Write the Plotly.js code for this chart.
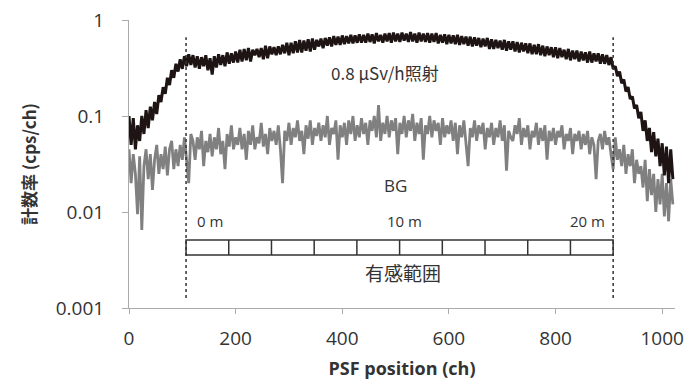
<!DOCTYPE html>
<html>
<head>
<meta charset="utf-8">
<script src="https://cdn.plot.ly/plotly-3.0.1.min.js"></script>
<style>html,body{margin:0;padding:0;background:#fff;}#chart{width:694px;height:381px;}</style>
</head>
<body>
<div id="chart"></div>
<script>
// channel step of the sampled spectra (ch)
const chStep = 4;

// 0.8 uSv/h irradiation count rate (cps/ch), every 4 ch from 0 to 1020
const irradiated = [
  0.1, 0.05, 0.095, 0.045, 0.08, 0.055, 0.1, 0.065, 0.115, 0.075,
  0.125, 0.09, 0.14, 0.105, 0.165, 0.14, 0.2, 0.17, 0.25, 0.21,
  0.3, 0.25, 0.35, 0.29, 0.39, 0.31, 0.42, 0.33, 0.44, 0.34,
  0.43, 0.32, 0.42, 0.31, 0.41, 0.33, 0.43, 0.3, 0.4, 0.27,
  0.42, 0.32, 0.44, 0.34, 0.43, 0.33, 0.46, 0.35, 0.45, 0.36,
  0.47, 0.36, 0.49, 0.37, 0.5, 0.38, 0.51, 0.37, 0.49, 0.43,
  0.5, 0.41, 0.51, 0.39, 0.54, 0.4, 0.53, 0.44, 0.52, 0.43,
  0.53, 0.44, 0.55, 0.45, 0.58, 0.43, 0.58, 0.45, 0.6, 0.46,
  0.62, 0.46, 0.61, 0.48, 0.63, 0.47, 0.64, 0.49, 0.62, 0.53,
  0.64, 0.51, 0.65, 0.54, 0.66, 0.53, 0.68, 0.55, 0.67, 0.55,
  0.69, 0.56, 0.68, 0.57, 0.7, 0.57, 0.69, 0.58, 0.71, 0.58,
  0.7, 0.58, 0.72, 0.59, 0.71, 0.57, 0.73, 0.6, 0.7, 0.58,
  0.72, 0.6, 0.73, 0.58, 0.74, 0.6, 0.72, 0.59, 0.74, 0.61,
  0.72, 0.59, 0.75, 0.6, 0.72, 0.58, 0.74, 0.6, 0.72, 0.59,
  0.73, 0.58, 0.72, 0.59, 0.73, 0.57, 0.7, 0.58, 0.71, 0.56,
  0.7, 0.57, 0.69, 0.56, 0.7, 0.55, 0.68, 0.56, 0.67, 0.54,
  0.67, 0.53, 0.66, 0.54, 0.65, 0.52, 0.64, 0.53, 0.65, 0.5,
  0.63, 0.5, 0.62, 0.51, 0.61, 0.49, 0.62, 0.48, 0.6, 0.49,
  0.6, 0.47, 0.59, 0.46, 0.58, 0.47, 0.57, 0.45, 0.57, 0.44,
  0.55, 0.44, 0.56, 0.43, 0.54, 0.42, 0.53, 0.43, 0.52, 0.41,
  0.52, 0.4, 0.51, 0.41, 0.49, 0.39, 0.5, 0.38, 0.48, 0.39,
  0.48, 0.37, 0.47, 0.38, 0.46, 0.36, 0.47, 0.36, 0.45, 0.37,
  0.45, 0.35, 0.44, 0.35, 0.43, 0.34, 0.41, 0.31, 0.33, 0.26,
  0.29, 0.22, 0.24, 0.18, 0.2, 0.15, 0.16, 0.12, 0.13, 0.095,
  0.11, 0.07, 0.09, 0.055, 0.075, 0.042, 0.068, 0.038, 0.058, 0.03,
  0.052, 0.024, 0.048, 0.02, 0.045, 0.022
];

// background (BG) count rate (cps/ch), every 4 ch from 0 to 1020
const background = [
  0.045, 0.02, 0.04, 0.025, 0.0095, 0.038, 0.0065, 0.03, 0.045, 0.022,
  0.04, 0.017, 0.035, 0.05, 0.025, 0.04, 0.028, 0.048, 0.024, 0.045,
  0.055, 0.028, 0.045, 0.03, 0.05, 0.035, 0.06, 0.035, 0.02, 0.065,
  0.055, 0.035, 0.06, 0.045, 0.07, 0.03, 0.055, 0.042, 0.065, 0.038,
  0.06, 0.045, 0.075, 0.04, 0.055, 0.028, 0.065, 0.048, 0.08, 0.045,
  0.06, 0.05, 0.075, 0.045, 0.065, 0.035, 0.07, 0.05, 0.08, 0.045,
  0.06, 0.052, 0.085, 0.048, 0.065, 0.04, 0.075, 0.055, 0.07, 0.05,
  0.08, 0.045, 0.02, 0.07, 0.055, 0.085, 0.05, 0.075, 0.06, 0.09,
  0.055, 0.07, 0.04, 0.08, 0.058, 0.09, 0.05, 0.075, 0.062, 0.085,
  0.055, 0.08, 0.06, 0.1, 0.05, 0.075, 0.065, 0.09, 0.035, 0.08,
  0.06, 0.085, 0.05, 0.09, 0.065, 0.1, 0.055, 0.08, 0.06, 0.095,
  0.065, 0.085, 0.05, 0.09, 0.07, 0.1, 0.06, 0.13, 0.055, 0.085,
  0.065, 0.1, 0.06, 0.09, 0.07, 0.095, 0.04, 0.085, 0.065, 0.1,
  0.06, 0.09, 0.07, 0.105, 0.055, 0.085, 0.065, 0.095, 0.035, 0.08,
  0.065, 0.1, 0.06, 0.09, 0.07, 0.085, 0.05, 0.095, 0.06, 0.08,
  0.065, 0.09, 0.055, 0.085, 0.04, 0.08, 0.06, 0.09, 0.05, 0.03,
  0.075, 0.06, 0.09, 0.055, 0.08, 0.065, 0.085, 0.045, 0.075, 0.06,
  0.085, 0.05, 0.075, 0.06, 0.09, 0.055, 0.08, 0.027, 0.07, 0.06,
  0.055, 0.08, 0.065, 0.095, 0.05, 0.075, 0.06, 0.08, 0.045, 0.07,
  0.06, 0.085, 0.05, 0.075, 0.055, 0.08, 0.035, 0.07, 0.055, 0.075,
  0.05, 0.07, 0.06, 0.08, 0.045, 0.065, 0.055, 0.075, 0.04, 0.065,
  0.055, 0.07, 0.045, 0.065, 0.05, 0.07, 0.04, 0.06, 0.05, 0.022,
  0.055, 0.065, 0.045, 0.07, 0.05, 0.06, 0.04, 0.028, 0.06, 0.035,
  0.045, 0.03, 0.05, 0.025, 0.04, 0.03, 0.045, 0.02, 0.035, 0.025,
  0.03, 0.018, 0.035, 0.013, 0.028, 0.015, 0.025, 0.01, 0.022, 0.012,
  0.025, 0.009, 0.02, 0.008, 0.022, 0.012
];

// annotations
const seriesLabels = ['0.8 \u00b5Sv/h照射', 'BG'];
const sensitiveRange = [107, 908];        // ch, dashed lines / ruler ends
const rulerSegments = 10;                 // 2 m per segment
const rulerLabels = ['0 m', '10 m', '20 m'];
const rulerLabelCh = [152, 516, 859];
const rangeLabel = '有感範囲';

// axes
const yTickVals = [0.001, 0.01, 0.1, 1];
const yTickText = ['0.001', '0.01', '0.1', '1'];
const xTickVals = [0, 200, 400, 600, 800, 1000];
const xTitle = 'PSF position (ch)';
const yTitle = '計数率 (cps/ch)';

const chIrr = irradiated.map((_, i) => i * chStep);
const chBg = background.map((_, i) => i * chStep);

const FONT = '"Open Sans", "Noto Sans CJK JP", sans-serif';
const JFONT = '"Noto Sans CJK JP", "Open Sans", sans-serif';

const traces = [
  {x: chBg, y: background, type: 'scatter', mode: 'lines',
   line: {color: '#808080', width: 2.8}, hoverinfo: 'skip'},
  {x: chIrr, y: irradiated, type: 'scatter', mode: 'lines',
   line: {color: '#1e1414', width: 3}, hoverinfo: 'skip'}
];

const shapes = [];
sensitiveRange.forEach(c => shapes.push({
  type: 'line', xref: 'x', yref: 'paper', x0: c, x1: c, y0: 0.035, y1: 0.94,
  line: {color: '#333', width: 1.5, dash: 'dot'}
}));
const r0 = sensitiveRange[0], r1 = sensitiveRange[1];
shapes.push({type: 'rect', xref: 'x', yref: 'paper', x0: r0, x1: r1, y0: 0.184, y1: 0.236,
  line: {color: '#333', width: 1.5}, fillcolor: 'rgba(0,0,0,0)'});
for (let k = 1; k < rulerSegments; k++) {
  const c = r0 + (r1 - r0) * k / rulerSegments;
  shapes.push({type: 'line', xref: 'x', yref: 'paper', x0: c, x1: c, y0: 0.184, y1: 0.236,
    line: {color: '#333', width: 1.5}});
}

const annotations = [
  {x: 480, y: 0.816, xref: 'x', yref: 'paper', text: seriesLabels[0], showarrow: false,
   yanchor: 'middle', font: {family: JFONT, size: 17, color: '#333'}},
  {x: 500, y: 0.427, xref: 'x', yref: 'paper', text: seriesLabels[1], showarrow: false,
   yanchor: 'middle', font: {family: FONT, size: 17, color: '#333'}},
  {x: 514, y: 0.122, xref: 'x', yref: 'paper', text: rangeLabel, showarrow: false,
   yanchor: 'middle', font: {family: JFONT, size: 19, color: '#333'}}
];
rulerLabels.forEach((t, i) => annotations.push({
  x: rulerLabelCh[i], y: 0.302, xref: 'x', yref: 'paper', text: t, showarrow: false,
  yanchor: 'middle', font: {family: FONT, size: 15, color: '#333'}
}));

const layout = {
  width: 694, height: 381,
  margin: {l: 129, r: 19, t: 20, b: 73},
  paper_bgcolor: '#fff', plot_bgcolor: '#fff',
  showlegend: false,
  font: {family: FONT, color: '#333'},
  xaxis: {
    range: [0, 1024], tickvals: xTickVals, ticks: 'outside', ticklen: 5, tickcolor: '#aaa',
    showgrid: false, zeroline: false, showline: true, linecolor: '#aaa', linewidth: 1,
    tickfont: {family: FONT, size: 19, color: '#333'}, ticklabelstandoff: 8,
    title: {text: '<b>' + xTitle + '</b>', font: {family: FONT, size: 18, color: '#333'}, standoff: 12}
  },
  yaxis: {
    type: 'log', range: [-3, 0], tickvals: yTickVals, ticktext: yTickText,
    ticks: 'outside', ticklen: 6, tickcolor: '#aaa',
    showgrid: false, zeroline: false, showline: true, linecolor: '#aaa', linewidth: 1,
    tickfont: {family: FONT, size: 19, color: '#333'}, ticklabelstandoff: 14,
    title: {text: '<b>' + yTitle + '</b>', font: {family: JFONT, size: 17, color: '#333'}, standoff: 14}
  },
  shapes: shapes,
  annotations: annotations
};

Plotly.newPlot('chart', traces, layout, {staticPlot: true, displayModeBar: false});
</script>
</body>
</html>
